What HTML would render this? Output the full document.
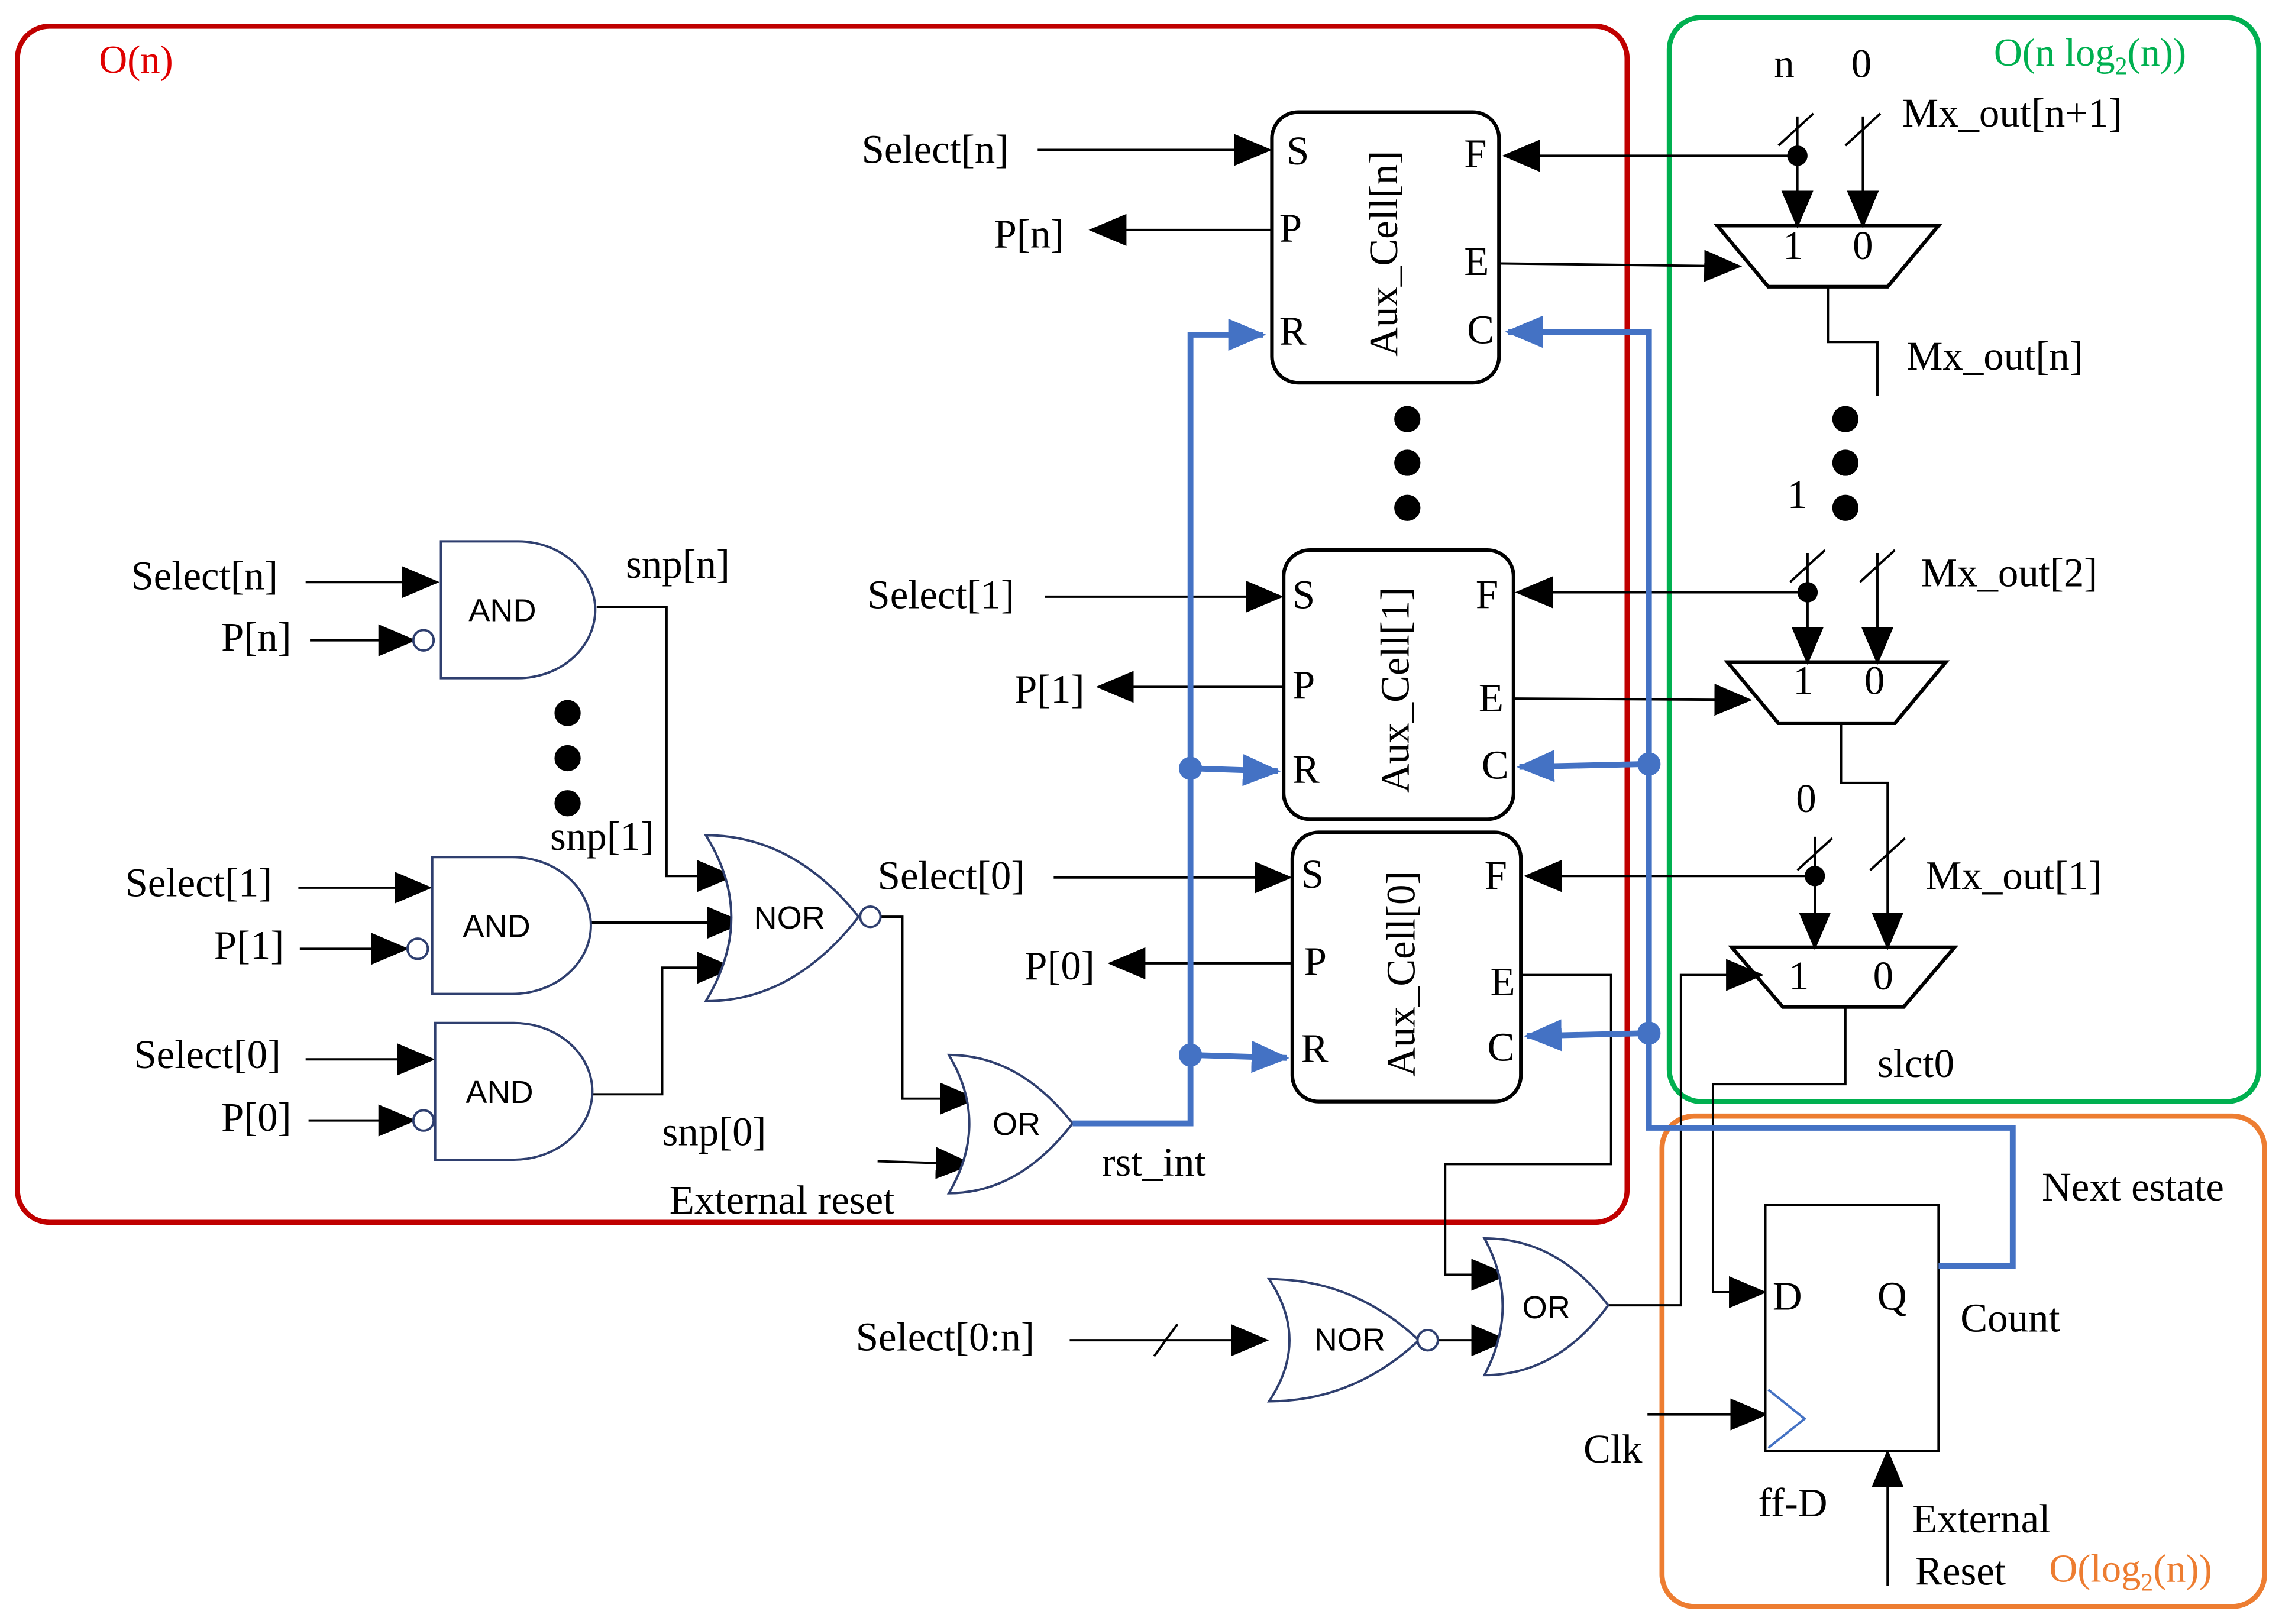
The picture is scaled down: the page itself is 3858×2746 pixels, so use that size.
<!DOCTYPE html>
<html><head><meta charset="utf-8"><style>
html,body{margin:0;padding:0;background:#fff}
svg{display:block}
text{font-family:"Liberation Serif",serif;font-size:28px;fill:#000}
.g{font-family:"Liberation Sans",sans-serif;font-size:22px}
.w{stroke:#000;stroke-width:1.6;fill:none}
.b{stroke:#4472c4;stroke-width:4;fill:none}
.gate{stroke:#2f3f6f;stroke-width:1.6;fill:#fff}
</style></head><body>
<svg width="3858" height="2746" viewBox="0 0 1568 1116" xmlns="http://www.w3.org/2000/svg">
<defs>
<marker id="a" markerUnits="userSpaceOnUse" markerWidth="26" markerHeight="22" refX="24" refY="11" orient="auto"><path d="M0,0 L26,11 L0,22 Z" fill="#000"/></marker>
<marker id="ab" markerUnits="userSpaceOnUse" markerWidth="26" markerHeight="22" refX="24" refY="11" orient="auto"><path d="M0,0 L26,11 L0,22 Z" fill="#4472c4"/></marker>
</defs>
<rect width="1568" height="1116" fill="#fff"/>
<rect x="12" y="18" width="1106" height="822" rx="22" fill="none" stroke="#c00000" stroke-width="3.5"/>
<rect x="1147" y="12" width="405" height="745" rx="22" fill="none" stroke="#00b050" stroke-width="3.5"/>
<rect x="1142" y="767" width="414" height="337" rx="22" fill="none" stroke="#ed7d31" stroke-width="3.5"/>
<text x="68" y="50" style="fill:#e00000;font-size:27px">O(n)</text>
<text x="1370" y="45" style="fill:#00b050;font-size:27px">O(n log<tspan font-size="17" dy="6">2</tspan><tspan dy="-6">(n))</tspan></text>
<text x="1408" y="1087" style="fill:#ed7d31;font-size:27px">O(log<tspan font-size="17" dy="6">2</tspan><tspan dy="-6">(n))</tspan></text>

<g stroke="#000" stroke-width="2.5" fill="#fff">
<rect x="874" y="77" width="156" height="186" rx="18"/>
<rect x="882" y="378" width="158" height="185" rx="18"/>
<rect x="888" y="572" width="157" height="185" rx="18"/>
</g>
<text x="884" y="113">S</text><text x="879" y="166">P</text><text x="879" y="237">R</text>
<text x="1006" y="115">F</text><text x="1006" y="189">E</text><text x="1008" y="236">C</text>
<text transform="translate(960,245) rotate(-90)">Aux_Cell[n]</text>
<text x="888" y="418">S</text><text x="888" y="480">P</text><text x="888" y="538">R</text>
<text x="1014" y="418">F</text><text x="1016" y="489">E</text><text x="1018" y="535">C</text>
<text transform="translate(968,545) rotate(-90)">Aux_Cell[1]</text>
<text x="894" y="610">S</text><text x="896" y="670">P</text><text x="894" y="730">R</text>
<text x="1020" y="611">F</text><text x="1024" y="684">E</text><text x="1022" y="729">C</text>
<text transform="translate(972,740) rotate(-90)">Aux_Cell[0]</text>

<g fill="#000">
<circle cx="967" cy="288" r="9"/><circle cx="967" cy="318" r="9"/><circle cx="967" cy="349" r="9"/>
<circle cx="1268" cy="288" r="9"/><circle cx="1268" cy="318" r="9"/><circle cx="1268" cy="349" r="9"/>
<circle cx="390" cy="490" r="9"/><circle cx="390" cy="521" r="9"/><circle cx="390" cy="552" r="9"/>
<circle cx="1235" cy="107" r="7"/><circle cx="1242" cy="407" r="7"/><circle cx="1247" cy="602" r="7"/>
</g>

<g stroke="#000" stroke-width="2.5" fill="#fff">
<path d="M1180,155 H1332 L1297,197 H1215 Z"/>
<path d="M1187,455 H1337 L1302,497 H1222 Z"/>
<path d="M1190,651 H1343 L1308,692 H1225 Z"/>
</g>
<text x="1225" y="178">1</text><text x="1273" y="178">0</text>
<text x="1232" y="477">1</text><text x="1281" y="477">0</text>
<text x="1229" y="680">1</text><text x="1287" y="680">0</text>

<g class="w">
<line x1="1235" y1="107" x2="1034" y2="107" marker-end="url(#a)"/>
<line x1="1235" y1="80" x2="1235" y2="155" marker-end="url(#a)"/>
<line x1="1280" y1="80" x2="1280" y2="155" marker-end="url(#a)"/>
<line x1="1222" y1="100" x2="1246" y2="78"/><line x1="1268" y1="100" x2="1292" y2="78"/>
<line x1="1030" y1="181" x2="1195" y2="183" marker-end="url(#a)"/>
<polyline points="1256,197 1256,235 1290,235 1290,272"/>
<line x1="1242" y1="407" x2="1043" y2="407" marker-end="url(#a)"/>
<line x1="1242" y1="380" x2="1242" y2="455" marker-end="url(#a)"/>
<line x1="1290" y1="380" x2="1290" y2="455" marker-end="url(#a)"/>
<line x1="1230" y1="400" x2="1254" y2="378"/><line x1="1278" y1="400" x2="1302" y2="378"/>
<line x1="1040" y1="480" x2="1202" y2="481" marker-end="url(#a)"/>
<polyline points="1265,497 1265,538 1297,538 1297,651" marker-end="url(#a)"/>
<line x1="1247" y1="602" x2="1049" y2="602" marker-end="url(#a)"/>
<line x1="1247" y1="575" x2="1247" y2="651" marker-end="url(#a)"/>
<line x1="1235" y1="598" x2="1259" y2="576"/><line x1="1285" y1="598" x2="1309" y2="576"/>
<polyline points="1045,670 1107,670 1107,800 993,800 993,876 1035,876" marker-end="url(#a)"/>
<polyline points="1105,897 1155,897 1155,670 1210,670" marker-end="url(#a)"/>
<polyline points="1268,692 1268,745 1177,745 1177,888 1212,888" marker-end="url(#a)"/>
<line x1="713" y1="103" x2="872" y2="103" marker-end="url(#a)"/>
<line x1="874" y1="158" x2="750" y2="158" marker-end="url(#a)"/>
<line x1="718" y1="410" x2="880" y2="410" marker-end="url(#a)"/>
<line x1="882" y1="472" x2="755" y2="472" marker-end="url(#a)"/>
<line x1="724" y1="603" x2="886" y2="603" marker-end="url(#a)"/>
<line x1="888" y1="662" x2="763" y2="662" marker-end="url(#a)"/>
<line x1="210" y1="400" x2="300" y2="400" marker-end="url(#a)"/>
<line x1="213" y1="440" x2="284" y2="440" marker-end="url(#a)"/>
<line x1="205" y1="610" x2="295" y2="610" marker-end="url(#a)"/>
<line x1="206" y1="652" x2="279" y2="652" marker-end="url(#a)"/>
<line x1="210" y1="728" x2="297" y2="728" marker-end="url(#a)"/>
<line x1="212" y1="770" x2="284" y2="770" marker-end="url(#a)"/>
<polyline points="410,417 458,417 458,602 503,602" marker-end="url(#a)"/>
<line x1="406" y1="634" x2="510" y2="634" marker-end="url(#a)"/>
<polyline points="407,752 455,752 455,665 503,665" marker-end="url(#a)"/>
<polyline points="605,630 620,630 620,755 670,755" marker-end="url(#a)"/>
<line x1="603" y1="798" x2="667" y2="800" marker-end="url(#a)"/>
<line x1="735" y1="921" x2="870" y2="921" marker-end="url(#a)"/>
<line x1="793" y1="932" x2="809" y2="910"/>
<line x1="988" y1="921" x2="1035" y2="921" marker-end="url(#a)"/>
<line x1="1132" y1="972" x2="1213" y2="972" marker-end="url(#a)"/>
<line x1="1297" y1="1090" x2="1297" y2="998" marker-end="url(#a)"/>
</g>

<g class="gate">
<path d="M303,372 H356 A53,47 0 0 1 356,466 H303 Z"/>
<path d="M297,589 H352 A54,47 0 0 1 352,683 H297 Z"/>
<path d="M299,703 H353 A54,47 0 0 1 353,797 H299 Z"/>
<path d="M485,574 Q545,574 590,630 Q545,688 485,688 Q520,630 485,574 Z"/>
<path d="M652,725 Q700,725 737,772 Q700,820 652,820 Q680,772 652,725 Z"/>
<path d="M872,879 Q930,879 975,921 Q930,963 872,963 Q900,921 872,879 Z"/>
<path d="M1020,851 Q1070,851 1105,897 Q1070,945 1020,945 Q1045,897 1020,851 Z"/>
<circle cx="291" cy="440" r="7"/><circle cx="287" cy="652" r="7"/><circle cx="291" cy="770" r="7"/>
<circle cx="598" cy="630" r="7"/><circle cx="981" cy="921" r="7"/>
</g>
<text class="g" x="322" y="427">AND</text>
<text class="g" x="318" y="644">AND</text>
<text class="g" x="320" y="758">AND</text>
<text class="g" x="518" y="638">NOR</text>
<text class="g" x="682" y="780">OR</text>
<text class="g" x="903" y="928">NOR</text>
<text class="g" x="1046" y="906">OR</text>

<rect x="1213" y="828" width="119" height="169" fill="#fff" stroke="#000" stroke-width="1.6"/>
<path d="M1215,955 L1240,975 L1215,995" fill="none" stroke="#4472c4" stroke-width="1.6"/>
<text x="1218" y="900">D</text><text x="1290" y="900">Q</text>

<g class="b">
<polyline points="737,772 818,772 818,230 868,230" marker-end="url(#ab)"/>
<line x1="818" y1="528" x2="878" y2="530" marker-end="url(#ab)"/>
<line x1="818" y1="725" x2="884" y2="727" marker-end="url(#ab)"/>
<polyline points="1332,870 1383,870 1383,775 1133,775 1133,228 1036,228" marker-end="url(#ab)"/>
<line x1="1133" y1="525" x2="1044" y2="527" marker-end="url(#ab)"/>
<line x1="1133" y1="710" x2="1049" y2="712" marker-end="url(#ab)"/>
</g>
<g fill="#4472c4"><circle cx="818" cy="528" r="8"/><circle cx="818" cy="725" r="8"/><circle cx="1133" cy="525" r="8"/><circle cx="1133" cy="710" r="8"/></g>

<text x="592" y="112">Select[n]</text><text x="683" y="170">P[n]</text>
<text x="596" y="418">Select[1]</text><text x="697" y="483">P[1]</text>
<text x="603" y="611">Select[0]</text><text x="704" y="673">P[0]</text>
<text x="90" y="405">Select[n]</text><text x="152" y="447">P[n]</text>
<text x="86" y="616">Select[1]</text><text x="147" y="659">P[1]</text>
<text x="92" y="734">Select[0]</text><text x="152" y="777">P[0]</text>
<text x="430" y="397">snp[n]</text><text x="378" y="584">snp[1]</text><text x="455" y="787">snp[0]</text>
<text x="460" y="834">External reset</text><text x="757" y="808">rst_int</text>
<text x="1219" y="53">n</text><text x="1272" y="53">0</text>
<text x="1307" y="87">Mx_out[n+1]</text><text x="1310" y="254">Mx_out[n]</text>
<text x="1228" y="349">1</text><text x="1320" y="403">Mx_out[2]</text>
<text x="1234" y="558">0</text><text x="1323" y="611">Mx_out[1]</text>
<text x="1290" y="740">slct0</text>
<text x="588" y="928">Select[0:n]</text>
<text x="1403" y="825">Next estate</text><text x="1347" y="915">Count</text>
<text x="1088" y="1005">Clk</text><text x="1208" y="1042">ff-D</text>
<text x="1314" y="1053">External</text><text x="1316" y="1089">Reset</text>
</svg>
</body></html>
